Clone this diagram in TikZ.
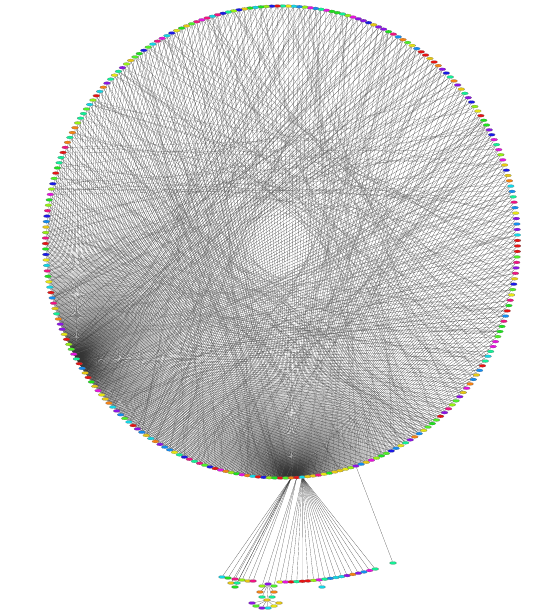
\documentclass[tikz,border=0pt]{standalone}
\usepackage{tikz}
\usetikzlibrary{shapes.geometric}
\pgfdeclarelayer{background}
\pgfsetlayers{background,main}

\definecolor{c1}{RGB}{230,20,20}
\definecolor{c2}{RGB}{30,225,30}
\definecolor{c3}{RGB}{25,25,230}
\definecolor{c4}{RGB}{230,20,220}
\definecolor{c5}{RGB}{20,215,230}
\definecolor{c6}{RGB}{230,230,20}
\definecolor{c7}{RGB}{245,130,20}
\definecolor{c8}{RGB}{140,20,230}
\definecolor{c9}{RGB}{150,240,20}
\definecolor{c10}{RGB}{20,240,150}
\definecolor{c11}{RGB}{240,20,130}
\definecolor{c12}{RGB}{20,140,240}
\definecolor{c13}{RGB}{230,200,20}
\definecolor{c14}{RGB}{80,240,40}

\tikzset{
  vtx/.style={ellipse, draw=black!60, line width=0.1pt, inner sep=0pt,
              minimum width=7pt, minimum height=3pt},
  edge/.style={draw=black!80, line width=0.15pt},
  chord/.style={draw=black!55, line width=0.12pt},
}

\begin{document}
\begin{tikzpicture}[x=1pt,y=-1pt]
\useasboundingbox (0,0) rectangle (552,614);
\pgfmathsetseed{42}
% ring of vertices
\foreach \i in {0,...,269}{
  \pgfmathrandominteger{\c}{1}{14}
  \pgfmathsetmacro\a{\i*4/3+0.37}
  \node[vtx,fill=c\c] (v\i) at ({281.5+236*cos(\a)},{242-236*sin(\a)}) {};
}
% lower arc
\foreach \k in {0,...,17}{
  \pgfmathrandominteger{\c}{1}{14}
  \node[vtx,fill=c\c] (a\k) at ({280+\k*5.6},{582-13*(\k/17)^2}) {};
}
% left group
\foreach \x/\y [count=\k] in {222/577,228/578,235/579,242/580,248/581,253/581,231/583,237/583,235/587}{
  \pgfmathrandominteger{\c}{1}{14}
  \node[vtx,fill=c\c] (l\k) at (\x,\y) {};
}
% small cluster
\foreach \x/\y [count=\k] in {262/586,268/584,274/586,260/592,274/592,262/597,272/597,267/600,252/603,256/606,262/608,268/608,274/606,279/603}{
  \pgfmathrandominteger{\c}{1}{14}
  \node[vtx,fill=c\c] (m\k) at (\x,\y) {};
}
\node[vtx,fill=c5] (s1) at (322,587) {};
\node[vtx,fill=c10] (s2) at (393,563) {};

\begin{pgfonlayer}{background}
\foreach \i in {0,...,269}{
  \pgfmathrandominteger{\s}{95}{125}
  \pgfmathtruncatemacro\j{mod(\i+\s,270)}
  \draw[chord] (v\i) -- (v\j);
  \ifnum\i=157\else\draw[edge] (v157) -- (v\i);\fi
  \ifnum\i=204\else\draw[edge] (v204) -- (v\i);\fi
}
\foreach \k in {0,...,17} \draw[edge] (v206) -- (a\k);
\foreach \k in {1,...,9} \draw[edge] (v204) -- (l\k);
\foreach \k in {1,2,3} \draw[edge] (v205) -- (m\k);
\foreach \k in {4,...,8} \draw[edge] (m2) -- (m\k);
\foreach \k in {9,...,14} \draw[edge] (m8) -- (m\k);
\draw[edge] (a7) -- (s1);
\draw[edge] (v216) -- (s2);
\end{pgfonlayer}
\end{tikzpicture}
\end{document}
